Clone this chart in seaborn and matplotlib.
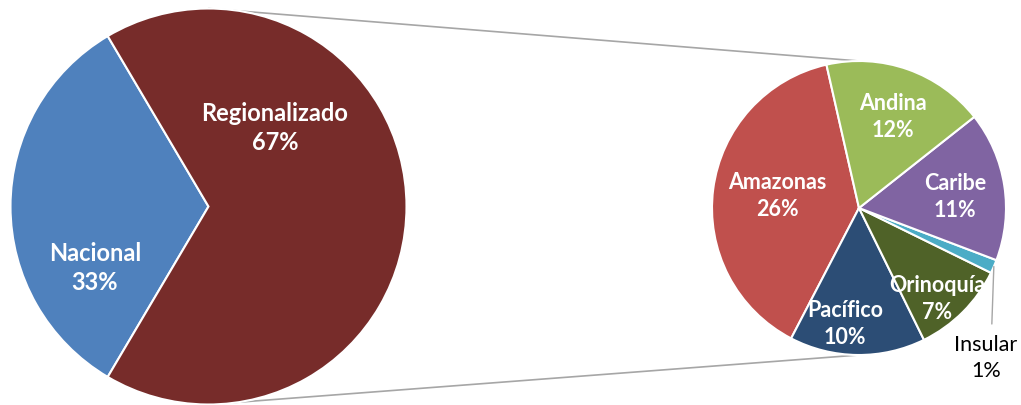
import matplotlib.pyplot as plt
import numpy as np
import seaborn as sns

# datos
grupos = ['Nacional', 'Regionalizado']
pct_grupos = [33, 67]
regiones = ['Amazonas', 'Pacífico', 'Orinoquía', 'Insular', 'Caribe', 'Andina']
pct_regiones = [26, 10, 7, 1, 11, 12]

colores_grupos = ['#4F81BD', '#772C2A']
colores_regiones = ['#C0504D', '#2C4D75', '#4F6228', '#4BACC6', '#8064A2', '#9BBB59']

sns.set_style('white')
plt.rcParams['font.family'] = ['Lato', 'DejaVu Sans']

fig = plt.figure(figsize=(10.21, 4.06), dpi=100)
ax = fig.add_axes([0, 0, 1, 1])

# centros y radios en pixeles (y hacia arriba)
c1, r1 = (208.5, 198.5), 198
c2, r2 = (859, 197), 147
borde = dict(edgecolor='white', linewidth=1.5)

# conectores entre las dos tortas
ax.plot([c1[0], c2[0]], [c1[1] + r1, c2[1] + r2], color='#A6A6A6', lw=1.2, zorder=0)
ax.plot([c1[0], c2[0]], [c1[1] - r1, c2[1] - r2], color='#A6A6A6', lw=1.2, zorder=0)

w1, _ = ax.pie(pct_grupos, colors=colores_grupos, center=c1, radius=r1,
               startangle=180 + 1.8 * pct_grupos[0], counterclock=False,
               wedgeprops=borde)
w2, _ = ax.pie(pct_regiones, colors=colores_regiones, center=c2, radius=r2,
               startangle=102.8, counterclock=True, wedgeprops=borde)

ax.set_xlim(0, 1021)
ax.set_ylim(0, 406)
ax.set_aspect('equal')
ax.axis('off')

# posiciones de etiquetas
pos_grupos = [(95, 138), (275, 278)]
pos_regiones = [(777, 210), (845, 82), (937, 107), (986, 48), (955, 209), (893, 289)]

for nom, p, (x, y) in zip(grupos, pct_grupos, pos_grupos):
    ax.text(x, y, f'{nom}\n{p}%', ha='center', va='center', color='white',
            fontsize=17, fontweight='bold', linespacing=1.35)

for nom, p, (x, y) in zip(regiones, pct_regiones, pos_regiones):
    col = 'black' if nom == 'Insular' else 'white'
    wt = 'normal' if nom == 'Insular' else 'bold'
    ax.text(x, y, f'{nom}\n{p}%', ha='center', va='center', color=col,
            fontsize=15.5, fontweight=wt, linespacing=1.35)

# linea guia para Insular
w_ins = w2[regiones.index('Insular')]
ang = np.deg2rad((w_ins.theta1 + w_ins.theta2) / 2)
x0, y0 = c2[0] + r2 * np.cos(ang), c2[1] + r2 * np.sin(ang)
ax.plot([x0, x0 - 2], [y0, 81], color='#A6A6A6', lw=1)

fig.savefig('out.png', dpi=100)
